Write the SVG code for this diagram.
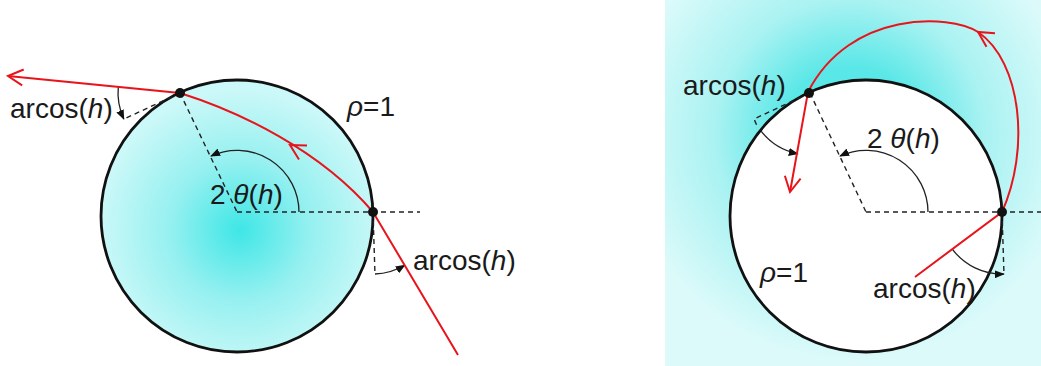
<svg xmlns="http://www.w3.org/2000/svg" xmlns:xlink="http://www.w3.org/1999/xlink" width="1041" height="366" viewBox="0 0 1041 366">
<style>
.circ{stroke:#111;stroke-width:2.8}
.ray{fill:none;stroke:#e8141c;stroke-width:2}
.dash{fill:none;stroke:#222;stroke-width:1.4;stroke-dasharray:5 4}
.ang{fill:none;stroke:#222;stroke-width:1.3;marker-end:url(#tri)}
.dot{fill:#111}
.lbl{font-family:"Liberation Sans",Arial,sans-serif;font-size:28px;fill:#1a1a1a}
.it{font-style:italic}
</style>
<defs>
<radialGradient id="gL" gradientUnits="userSpaceOnUse" cx="240" cy="230" r="140">
<stop offset="0" stop-color="#3fe6e6"/>
<stop offset="0.5" stop-color="#96f0f0"/>
<stop offset="1" stop-color="#cbf8f8"/>
</radialGradient>
<radialGradient id="gR" gradientUnits="userSpaceOnUse" cx="850" cy="135" r="225">
<stop offset="0.3" stop-color="#5ae7e7"/>
<stop offset="0.6" stop-color="#aaf2f2"/>
<stop offset="1" stop-color="#dcfafa"/>
</radialGradient>
<marker id="tri" viewBox="0 0 10 8" refX="9" refY="4" markerWidth="10" markerHeight="8" orient="auto" markerUnits="userSpaceOnUse">
<path d="M0,0 L10,4 L0,8 z" fill="#111"/>
</marker>
<path id="chev" d="M-15,-8 L0,0 L-15,8" fill="none" stroke="#e8141c" stroke-width="2"/>
</defs>

<g id="right-panel-bg">
<rect x="665" y="0" width="376" height="366" fill="url(#gR)"/>
</g>

<g id="left-circle">
<circle cx="237" cy="216" r="136" fill="url(#gL)" class="circ"/>
</g>
<g id="right-circle">
<circle cx="866" cy="216" r="136" fill="#ffffff" class="circ"/>
</g>

<g id="connectors">
<path class="dash" d="M180,93 L237,212"/>
<path class="dash" d="M237,212 L420,212"/>
<path class="dash" d="M180,93 L124,119"/>
<path class="dash" d="M373,212 L375,275"/>
<path class="dash" d="M810,93 L866,212"/>
<path class="dash" d="M866,212 L1041,212"/>
<path class="dash" d="M810,93 L754,119 L758,128"/>
<path class="dash" d="M1002,212 L1004,275"/>
<path class="ang" d="M299,212 A62,62 0 0 0 211,156"/>
<path class="ang" d="M928,212 A62,62 0 0 0 840,156"/>
<path class="ang" d="M118.3,86.9 A62,62 0 0 0 123.8,119"/>
<path class="ang" d="M375,274 A62,62 0 0 0 404.7,265.3"/>
<path class="ang" d="M761.1,131.2 A62,62 0 0 0 797.7,153.8"/>
<path class="ang" d="M952.3,249.1 A62,62 0 0 0 1003.8,274"/>
<path class="ray" d="M458,355 L373,212 C320,150 240,112 180,93 L8,76"/>
<path class="ray" d="M915,277 L1002,212 C1030,150 1022,62 978,32 C950,14 850,10 808,92 L790,192"/>
<use xlink:href="#chev" transform="translate(8,76) rotate(185.6)"/>
<use xlink:href="#chev" transform="translate(290,145) rotate(210)"/>
<use xlink:href="#chev" transform="translate(978,32) rotate(212)"/>
<use xlink:href="#chev" transform="translate(790,192) rotate(100.5)"/>
</g>

<g id="points">
<circle class="dot" cx="180" cy="93" r="5"/>
<circle class="dot" cx="373" cy="212" r="5"/>
<circle class="dot" cx="809" cy="93" r="5"/>
<circle class="dot" cx="1002" cy="212" r="5"/>
</g>

<g id="labels">
<text class="lbl" x="10" y="118">arcos(<tspan class="it">h</tspan>)</text>
<text class="lbl" x="347" y="116"><tspan class="it">ρ</tspan>=1</text>
<text class="lbl" x="210" y="204">2 <tspan class="it">θ</tspan>(<tspan class="it">h</tspan>)</text>
<text class="lbl" x="413" y="270">arcos(<tspan class="it">h</tspan>)</text>
<text class="lbl" x="683" y="95">arcos(<tspan class="it">h</tspan>)</text>
<text class="lbl" x="867" y="148">2 <tspan class="it">θ</tspan>(<tspan class="it">h</tspan>)</text>
<text class="lbl" x="760" y="282"><tspan class="it">ρ</tspan>=1</text>
<text class="lbl" x="873" y="298">arcos(<tspan class="it">h</tspan>)</text>
</g>
</svg>
